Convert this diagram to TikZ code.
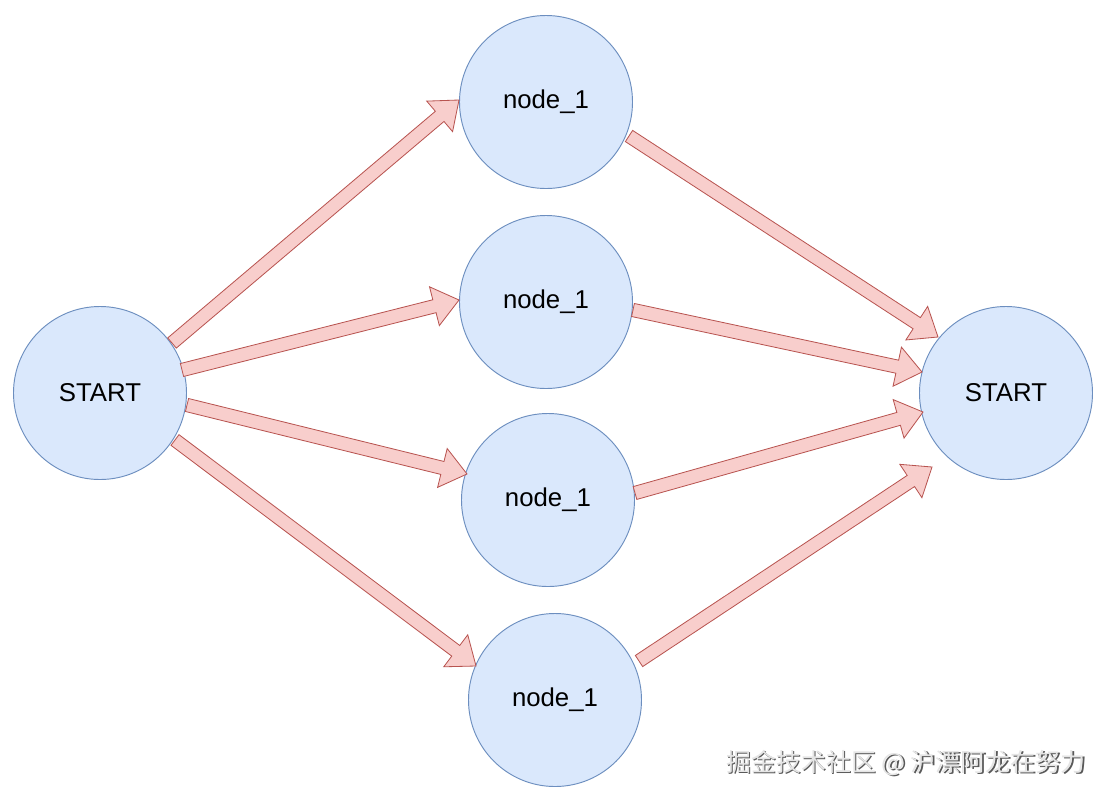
\documentclass[tikz,border=0pt]{standalone}
\usepackage{fontspec}
\setmainfont{Liberation Sans}
\newfontfamily\cjkfont{Noto Sans CJK SC}
\usetikzlibrary{calc}
\definecolor{cfill}{HTML}{DAE8FC}
\definecolor{cline}{HTML}{6C8EBF}
\definecolor{afill}{HTML}{F8CECC}
\definecolor{aline}{HTML}{B85450}
\tikzset{
  circ/.style={circle, draw=cline, fill=cfill, line width=0.8pt, minimum size=5.19cm, inner sep=0pt,
    font=\fontsize{22}{26}\selectfont},
  arrowsty/.style={fill=afill, draw=aline, line width=0.7pt, line join=miter},
}
\newcommand{\blockarrow}[2]{%
  \coordinate (ba) at (#1);
  \coordinate (bb) at (#2);
  \coordinate (bh) at ($(bb)!0.76cm!(ba)$);
  \filldraw[arrowsty] ($(ba)!0.2cm!90:(bb)$) -- ($(bh)!0.2cm!90:(bb)$) -- ($(bh)!0.6cm!90:(bb)$)
    -- (bb) -- ($(bh)!0.6cm!-90:(bb)$) -- ($(bh)!0.2cm!-90:(bb)$) -- ($(ba)!0.2cm!-90:(bb)$) -- cycle;
}
\begin{document}
\begin{tikzpicture}[x=0.03cm,y=-0.03cm]
\fill[white] (0,0) rectangle (1108,800);
\path[use as bounding box] (0,0) rectangle (1108,800);

\node[circ] (s)  at (100,393) {START};
\node[circ] (n1) at (546,102) {node\_1};
\node[circ] (n2) at (546,302) {node\_1};
\node[circ] (n3) at (548,500) {node\_1};
\node[circ] (n4) at (555,700) {node\_1};
\node[circ] (e)  at (1006,393) {START};

% arrow end points
\coordinate (a1) at ($(s)+(72,-50)$);  \coordinate (b1) at ($(n1)+(-87,-2)$);
\coordinate (a2) at ($(s)+(82,-23)$);  \coordinate (b2) at ($(n2)+(-87,-2)$);
\coordinate (a3) at ($(s)+(87,12)$);   \coordinate (b3) at ($(n3)+(-81,-26)$);
\coordinate (a4) at ($(s)+(75,47)$);   \coordinate (b4) at ($(n4)+(-79,-34)$);
\coordinate (a5) at ($(n1)+(83,34)$);  \coordinate (b5) at ($(e)+(-68,-56)$);
\coordinate (a6) at ($(n2)+(87,8)$);   \coordinate (b6) at ($(e)+(-84,-21)$);
\coordinate (a7) at ($(n3)+(87,-7)$);  \coordinate (b7) at ($(e)+(-83,19)$);
\coordinate (a8) at ($(n4)+(84,-39)$); \coordinate (b8) at ($(e)+(-74,74)$);

\blockarrow{a1}{b1}
\blockarrow{a2}{b2}
\blockarrow{a3}{b3}
\blockarrow{a4}{b4}
\blockarrow{a5}{b5}
\blockarrow{a6}{b6}
\blockarrow{a7}{b7}
\blockarrow{a8}{b8}

\node[text=black!65, font=\cjkfont\fontsize{21.3}{26}\selectfont] (wms) at (907.5,764.5) {掘金技术社区 @ 沪漂阿龙在努力};
\node[text=black!10, font=\cjkfont\fontsize{21.3}{26}\selectfont] (wm) at (906,763) {掘金技术社区 @ 沪漂阿龙在努力};
\end{tikzpicture}
\end{document}
